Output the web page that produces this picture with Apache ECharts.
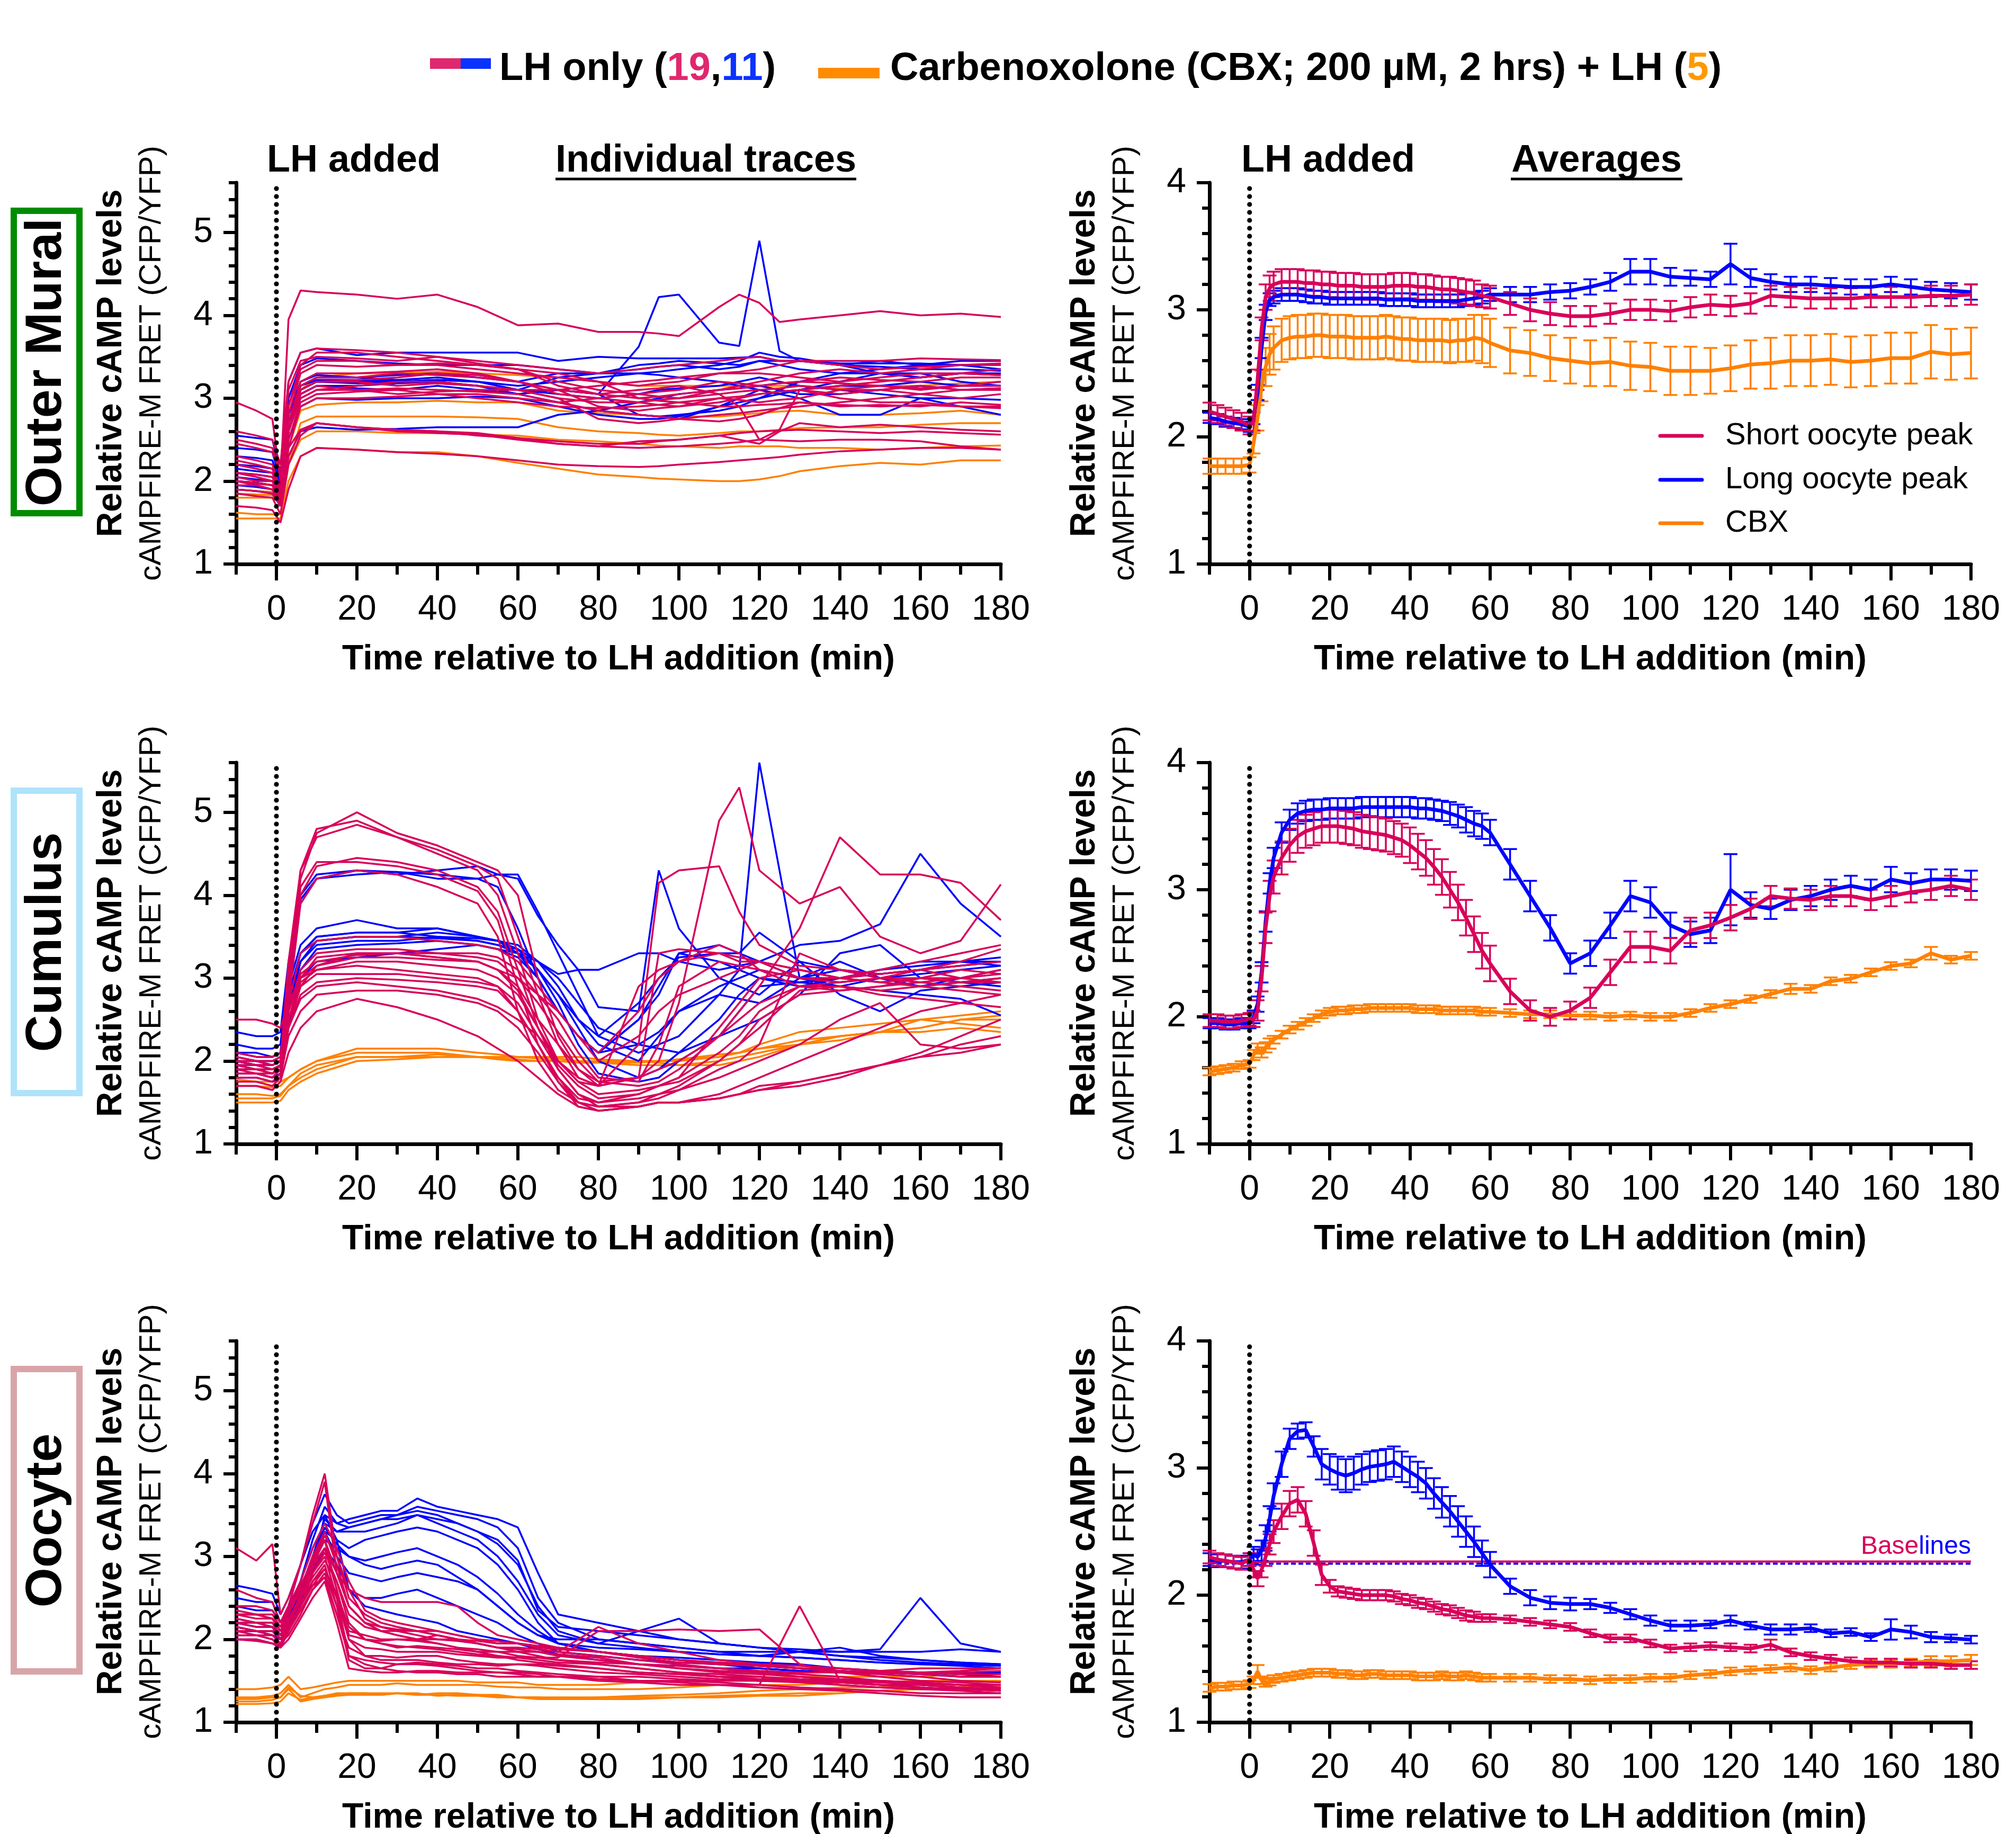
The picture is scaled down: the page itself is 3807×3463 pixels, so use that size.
<!DOCTYPE html>
<html>
<head>
<meta charset="utf-8">
<script src="https://cdn.jsdelivr.net/npm/echarts@6/dist/echarts.min.js"></script>
<style>
html, body { margin: 0; padding: 0; background: #fff; }
#main { width: 3807px; height: 3463px; }
</style>
</head>
<body>
<div id="main"></div>
<script>
// ---- data: individual traces (one row per oocyte/follicle) ----
var muralTime = [-10,-5,-1,1,3,6,10,20,30,40,50,60,70,80,90,95,100,110,115,120,125,130,140,150,160,170,180];
var muralPink = [
 [2.95,2.85,2.75,2.0,3.95,4.3,4.28,4.25,4.2,4.25,4.1,3.88,3.9,3.8,3.8,3.78,3.75,4.1,4.25,4.15,3.92,3.95,4.0,4.05,4.0,4.02,3.98],
 [2.6,2.55,2.5,2.2,3.2,3.55,3.6,3.58,3.55,3.5,3.45,3.4,3.35,3.3,3.35,3.38,3.4,3.45,3.48,3.5,3.45,3.45,3.45,3.45,3.48,3.47,3.46],
 [2.5,2.45,2.4,2.1,3.1,3.45,3.5,3.48,3.45,3.5,3.42,3.35,3.2,3.1,3.05,3.02,3.0,3.1,3.15,3.2,3.25,3.3,3.35,3.3,3.35,3.4,3.4],
 [2.3,2.25,2.2,1.9,2.9,3.35,3.45,3.45,3.4,3.4,3.35,3.3,3.25,3.2,3.0,2.97,2.95,3.0,3.02,3.05,3.08,3.1,3.15,3.2,3.25,3.3,3.35],
 [2.2,2.15,2.1,1.9,2.8,3.3,3.4,3.38,3.4,3.42,3.4,3.35,3.3,3.2,3.15,3.18,3.2,3.3,3.32,3.35,3.4,3.45,3.4,3.35,3.38,3.4,3.42],
 [2.1,2.08,2.05,1.85,2.7,3.2,3.3,3.3,3.32,3.35,3.3,3.2,3.05,3.0,2.95,2.92,2.9,2.95,3.0,3.05,3.08,3.1,3.05,3.1,3.15,3.1,3.1],
 [2.05,2.0,2.0,1.8,2.7,3.15,3.25,3.25,3.3,3.28,3.25,3.2,3.1,2.9,2.85,2.88,2.9,3.0,2.98,2.95,2.98,3.0,3.1,3.15,3.1,3.15,3.2],
 [2.0,1.98,1.95,1.75,2.6,3.1,3.2,3.2,3.15,3.18,3.15,3.1,3.1,3.15,3.2,3.22,3.25,3.3,3.3,3.3,3.28,3.25,3.2,3.25,3.3,3.3,3.28],
 [1.95,1.95,1.9,1.75,2.6,3.05,3.15,3.1,3.12,3.1,3.08,3.05,2.95,2.85,2.8,2.78,2.75,2.8,2.82,2.85,2.88,2.9,2.95,3.0,3.05,3.0,3.05],
 [2.1,2.05,2.0,1.8,2.6,3.0,3.1,3.1,3.05,3.08,3.1,3.1,3.0,2.95,2.95,2.98,3.0,3.05,3.08,3.1,3.12,3.15,3.1,3.1,3.05,3.1,3.12],
 [2.0,1.97,1.95,1.7,2.5,2.95,3.05,3.08,3.1,3.05,3.05,3.0,2.95,3.0,3.05,3.08,3.1,3.2,3.18,3.15,3.18,3.2,3.25,3.22,3.2,3.25,3.25],
 [1.9,1.88,1.85,1.7,2.4,2.9,3.0,3.0,3.02,3.05,3.0,2.95,2.9,2.88,2.9,2.92,2.95,2.9,2.9,2.92,2.93,2.95,2.92,2.9,2.92,2.9,2.9],
 [2.45,2.4,2.35,2.1,2.9,3.4,3.55,3.55,3.5,3.45,3.4,3.35,3.15,3.05,3.0,3.02,3.05,3.1,3.12,3.15,3.18,3.2,3.18,3.15,3.12,3.15,3.15],
 [2.0,1.95,1.9,1.7,2.3,2.6,2.7,2.65,2.62,2.6,2.58,2.52,2.48,2.45,2.45,2.48,2.5,2.55,2.58,2.6,2.61,2.62,2.6,2.58,2.6,2.58,2.56],
 [2.2,2.15,2.1,1.85,2.4,2.62,2.7,2.65,2.6,2.58,2.56,2.5,2.45,2.42,2.48,2.49,2.5,2.55,2.5,2.45,2.6,2.7,2.65,2.68,2.65,2.62,2.6],
 [1.85,1.82,1.8,1.6,2.2,2.55,2.7,2.65,2.62,2.6,2.55,2.52,2.45,2.42,2.4,2.41,2.42,2.45,2.47,2.5,2.49,2.48,2.5,2.5,2.48,2.42,2.38],
 [1.7,1.68,1.65,1.5,1.9,2.3,2.4,2.38,2.35,2.33,2.3,2.25,2.2,2.18,2.17,2.18,2.2,2.23,2.25,2.27,2.29,2.32,2.36,2.38,2.4,2.4,2.38],
 [2.1,2.05,2.0,1.8,2.6,3.0,3.1,3.15,3.2,3.2,3.15,3.1,3.0,2.75,2.7,2.72,2.75,2.72,2.75,2.8,2.88,2.95,2.9,2.92,2.9,2.95,2.92],
 [2.25,2.2,2.15,1.9,2.7,3.1,3.2,3.22,3.25,3.3,3.28,3.2,3.1,3.05,3.1,3.12,3.15,3.05,2.9,2.5,2.62,3.1,3.0,2.95,2.95,2.9,2.88]
];
var muralBlue = [
 [2.55,2.52,2.5,2.1,3.2,3.55,3.6,3.52,3.55,3.55,3.55,3.55,3.45,3.5,3.48,3.48,3.48,3.48,3.49,3.5,3.45,3.45,3.42,3.42,3.42,3.4,3.4],
 [2.4,2.38,2.35,2.0,3.0,3.4,3.48,3.45,3.42,3.4,3.4,3.4,3.35,3.3,3.3,3.32,3.35,3.4,3.45,3.55,3.5,3.48,3.4,3.38,3.35,3.35,3.33],
 [2.2,2.18,2.15,1.9,2.8,3.15,3.22,3.22,3.2,3.22,3.2,3.1,3.25,3.3,3.4,3.42,3.45,3.42,3.4,3.45,3.45,3.45,3.4,3.45,3.4,3.4,3.35],
 [2.1,2.08,2.05,1.85,2.7,3.1,3.2,3.2,3.22,3.18,3.15,3.05,3.1,3.05,3.62,4.22,4.25,3.67,3.63,4.9,3.57,3.45,3.4,3.3,3.3,3.2,3.15],
 [2.0,1.98,1.95,1.8,2.6,3.1,3.2,3.18,3.2,3.22,3.2,3.15,3.2,3.25,3.3,3.28,3.25,3.2,3.15,3.1,3.05,3.1,3.2,3.3,3.25,3.3,3.3],
 [2.15,2.12,2.1,1.85,2.7,3.15,3.25,3.25,3.22,3.25,3.2,3.1,3.05,3.0,3.05,3.1,3.12,3.15,3.2,3.25,3.2,3.15,3.1,3.05,3.0,3.0,2.98],
 [2.05,2.02,2.0,1.85,2.6,3.05,3.15,3.12,3.1,3.15,3.1,3.05,2.95,2.85,2.8,2.78,2.8,2.85,2.9,3.0,3.05,3.1,3.15,3.15,3.2,3.15,3.15],
 [1.95,1.93,1.9,1.75,2.5,2.9,3.0,2.98,3.0,3.0,3.02,3.0,2.9,2.8,2.75,2.75,2.78,2.9,3.0,3.1,3.05,3.0,2.8,2.8,3.0,2.9,2.8],
 [2.3,2.28,2.25,1.95,2.8,3.2,3.28,3.25,3.28,3.3,3.25,3.2,3.3,3.3,3.35,3.38,3.4,3.35,3.38,3.45,3.4,3.35,3.3,3.3,3.25,3.3,3.28],
 [1.9,1.88,1.85,1.7,2.3,2.6,2.65,2.62,2.63,2.65,2.65,2.65,2.8,2.85,2.95,3.0,3.05,3.1,3.12,3.15,3.1,3.05,3.05,3.1,3.15,3.1,3.12],
 [2.0,1.98,1.95,1.8,2.6,3.05,3.15,3.15,3.18,3.2,3.15,3.05,3.1,3.05,2.8,2.78,2.75,2.9,2.95,3.0,3.1,3.2,3.3,3.35,3.4,3.45,3.45]
];
var muralCbx = [
 [1.9,1.88,1.87,1.8,2.6,3.1,3.25,3.3,3.3,3.32,3.3,3.28,3.25,3.2,3.15,3.15,3.15,3.15,3.15,3.15,3.15,3.15,3.12,3.15,3.15,3.18,3.2],
 [1.85,1.84,1.83,1.75,2.4,2.85,2.92,2.95,2.95,2.97,2.95,2.95,2.85,2.82,2.8,2.78,2.78,2.78,2.8,2.82,2.84,2.85,2.8,2.8,2.82,2.85,2.8],
 [1.62,1.6,1.6,1.6,2.2,2.7,2.78,2.78,2.78,2.78,2.77,2.75,2.65,2.6,2.58,2.56,2.55,2.58,2.6,2.6,2.62,2.64,2.65,2.65,2.68,2.7,2.7],
 [1.8,1.8,1.8,1.75,2.2,2.5,2.6,2.6,2.58,2.58,2.56,2.55,2.5,2.48,2.45,2.43,2.42,2.4,2.42,2.42,2.42,2.4,2.4,2.38,2.4,2.42,2.43],
 [1.55,1.55,1.55,1.55,2.0,2.3,2.4,2.38,2.35,2.35,2.3,2.22,2.15,2.08,2.05,2.03,2.02,2.0,2.0,2.02,2.06,2.12,2.18,2.22,2.2,2.25,2.25]
];

var cumulusTime = [-10,-5,-1,1,3,6,10,20,30,40,50,55,60,65,70,75,80,90,95,100,110,115,120,130,140,150,160,170,180];
var cumulusPink = [
 [2.0,1.95,1.95,2.0,3.0,4.3,4.8,4.9,4.7,4.55,4.35,4.2,3.5,2.8,2.2,1.8,1.7,2.2,4.15,4.3,4.35,3.8,3.4,3.15,3.1,3.05,3.1,3.0,2.95],
 [1.95,1.9,1.9,1.95,2.8,4.2,4.75,5.0,4.75,4.6,4.4,4.3,4.0,3.0,2.3,1.9,1.75,1.8,2.0,2.7,4.9,5.3,4.3,3.9,4.1,3.5,3.3,3.45,4.13],
 [2.05,2.0,2.0,2.0,3.2,4.3,4.7,4.85,4.7,4.5,4.3,4.0,3.3,2.5,2.0,1.75,1.7,1.8,1.9,2.0,2.3,2.6,2.9,3.6,4.7,4.25,4.25,4.15,3.7],
 [1.9,1.9,1.85,1.95,2.8,4.0,4.35,4.45,4.4,4.3,4.1,3.8,3.1,2.4,1.9,1.6,1.5,1.6,1.7,1.8,2.4,2.7,3.0,3.1,3.0,2.95,3.0,3.0,3.05],
 [2.0,1.95,1.95,2.0,2.9,4.1,4.4,4.4,4.35,4.25,4.05,3.7,2.9,2.2,1.8,1.55,1.5,1.55,1.6,1.7,2.0,2.2,2.5,2.8,2.85,2.9,2.95,3.0,3.1],
 [1.85,1.85,1.8,1.9,2.7,3.9,4.2,4.3,4.25,4.1,3.9,3.5,2.6,2.0,1.65,1.5,1.45,1.5,1.6,1.65,1.9,2.0,2.2,3.3,3.1,3.0,2.95,2.9,2.85],
 [1.95,1.95,1.9,1.95,2.6,3.1,3.3,3.35,3.35,3.3,3.3,3.25,3.1,2.8,2.5,2.1,1.8,1.75,2.2,2.9,3.2,3.15,3.1,3.0,3.0,3.05,3.1,3.15,3.2],
 [1.9,1.85,1.85,1.9,2.5,3.0,3.25,3.3,3.3,3.25,3.2,3.1,2.9,2.5,2.2,1.9,1.7,1.8,3.3,3.35,3.3,3.2,3.2,3.1,3.0,3.1,3.2,3.3,3.4],
 [2.0,2.0,1.95,2.0,2.6,3.05,3.2,3.28,3.3,3.3,3.25,3.2,3.0,2.7,2.35,2.0,1.75,1.7,1.75,1.9,2.3,2.5,2.7,2.9,2.95,3.0,3.0,2.95,2.95],
 [1.8,1.8,1.75,1.85,2.4,2.9,3.15,3.25,3.25,3.22,3.2,3.1,2.85,2.4,1.95,1.7,1.55,1.6,1.7,1.8,2.1,2.3,2.6,2.9,2.9,2.85,2.9,2.95,3.0],
 [2.1,2.05,2.05,2.1,2.6,3.0,3.1,3.2,3.2,3.15,3.1,3.0,2.8,2.4,2.0,1.8,1.7,2.9,3.1,3.2,3.3,3.25,3.2,3.0,2.95,3.0,3.1,3.2,3.35],
 [1.95,1.9,1.9,1.95,2.5,2.9,3.05,3.05,3.05,3.0,2.95,2.9,2.7,2.3,1.9,1.6,1.45,1.45,1.5,1.5,1.55,1.6,1.7,1.75,1.85,1.95,2.05,2.2,2.3],
 [1.85,1.85,1.8,1.9,2.4,2.8,2.95,3.0,2.98,2.95,2.9,2.85,2.6,2.2,1.8,1.5,1.4,1.45,1.5,1.5,1.55,1.6,1.65,1.7,1.8,1.95,2.1,2.3,2.5],
 [1.75,1.75,1.7,1.8,2.3,2.6,2.8,2.85,2.85,2.8,2.7,2.6,2.4,2.1,1.75,1.45,1.4,1.45,1.5,1.5,1.6,1.7,1.8,2.0,2.2,2.4,2.6,2.7,2.8],
 [2.0,1.95,1.95,2.0,2.4,2.75,2.9,2.95,2.9,2.85,2.75,2.65,2.5,2.3,2.0,1.75,1.6,1.65,1.7,1.75,2.0,2.2,2.4,2.85,2.9,2.8,2.75,2.7,2.65],
 [1.7,1.7,1.65,1.75,2.1,2.4,2.6,2.75,2.65,2.5,2.3,2.15,2.0,1.8,1.6,1.45,1.4,1.45,1.5,1.5,1.55,1.6,1.65,1.75,1.85,1.95,2.05,2.1,2.2],
 [2.5,2.5,2.45,2.4,2.7,3.0,3.15,3.3,3.3,3.25,3.2,3.1,3.0,2.8,2.6,2.3,2.0,2.3,2.6,2.8,3.0,3.1,3.2,3.1,3.0,2.95,2.9,2.85,2.8],
 [1.9,1.9,1.85,1.9,2.5,2.95,3.1,3.15,3.1,3.05,3.0,2.9,2.6,2.2,1.75,1.5,1.45,1.5,1.55,1.65,1.8,1.9,2.0,2.2,2.5,2.7,2.2,2.15,2.2],
 [2.05,2.0,2.0,2.05,2.7,3.3,3.45,3.5,3.5,3.45,3.4,3.35,3.2,2.9,2.6,2.3,2.1,2.6,3.0,3.2,3.4,3.3,3.1,2.9,2.85,2.9,3.0,3.1,3.05]
];
var cumulusBlue = [
 [2.35,2.3,2.3,2.35,3.2,4.0,4.25,4.3,4.25,4.3,4.35,4.25,4.2,3.75,3.4,3.1,2.65,2.6,4.3,3.6,3.0,2.9,2.8,3.2,3.1,3.05,3.1,3.15,3.2],
 [2.1,2.1,2.05,2.1,3.0,3.9,4.2,4.25,4.28,4.25,4.2,4.1,3.6,3.0,2.6,2.3,2.1,2.5,2.8,3.3,3.2,3.1,3.0,2.95,3.0,3.1,3.2,3.2,3.15],
 [2.2,2.15,2.15,2.2,3.1,3.95,4.2,4.3,4.28,4.2,4.2,4.25,4.25,3.8,3.3,2.8,2.3,2.1,2.2,2.3,2.8,3.1,5.6,3.0,3.1,3.0,2.9,3.0,3.1],
 [2.0,2.0,1.95,2.0,2.8,3.3,3.5,3.55,3.55,3.6,3.5,3.45,3.35,3.1,2.8,2.5,2.3,2.7,3.0,3.25,3.3,3.3,3.2,3.4,3.45,3.65,4.5,3.9,3.5],
 [1.95,1.95,1.9,1.95,2.7,3.2,3.45,3.5,3.5,3.55,3.5,3.45,3.4,3.2,2.9,2.5,2.2,2.0,2.3,2.6,2.9,3.0,3.1,3.0,3.0,3.05,3.1,3.2,3.2],
 [2.05,2.0,2.0,2.05,2.8,3.3,3.5,3.55,3.55,3.5,3.48,3.45,3.3,3.0,2.6,2.3,2.1,2.5,2.9,3.3,3.4,3.3,3.55,3.2,2.8,2.6,2.85,2.9,2.95],
 [1.9,1.9,1.85,1.9,2.6,3.2,3.4,3.45,3.45,3.5,3.45,3.4,3.3,3.1,2.8,2.4,2.0,1.8,1.9,2.1,2.5,2.8,3.0,2.9,3.0,3.1,3.15,3.2,3.25],
 [2.1,2.05,2.05,2.1,2.9,3.4,3.6,3.7,3.6,3.6,3.5,3.45,3.35,3.1,2.7,2.2,1.85,1.75,1.8,2.0,2.3,2.4,2.5,2.8,3.3,3.4,3.0,2.95,2.9],
 [1.8,1.8,1.75,1.8,2.4,3.0,3.2,3.25,3.3,3.35,3.4,3.35,3.3,3.2,3.05,3.1,3.1,3.3,3.3,3.2,3.1,3.15,3.2,3.0,2.9,2.85,2.8,2.75,2.55],
 [2.0,1.95,1.95,2.0,2.7,3.2,3.45,3.5,3.5,3.48,3.45,3.4,3.35,3.2,3.0,2.7,2.4,2.2,2.15,2.1,2.3,2.6,2.9,2.95,2.9,3.0,3.05,3.1,3.15],
 [1.85,1.85,1.8,1.85,2.6,3.1,3.35,3.4,3.42,3.45,3.4,3.35,3.25,3.0,2.6,2.3,2.1,2.2,2.35,2.6,2.8,2.75,2.7,3.0,3.2,3.0,2.9,2.95,3.0]
];
var cumulusCbx = [
 [1.78,1.75,1.75,1.75,1.8,1.9,2.0,2.15,2.15,2.15,2.1,2.08,2.05,2.05,2.03,2.0,2.0,2.0,1.98,1.95,1.95,2.0,2.05,2.2,2.3,2.35,2.5,2.55,2.6],
 [1.7,1.7,1.68,1.7,1.8,1.9,2.0,2.1,2.1,2.1,2.05,2.05,2.05,2.03,2.0,1.98,1.98,1.98,2.0,2.02,2.05,2.1,2.15,2.25,2.3,2.35,2.4,2.5,2.55],
 [1.6,1.6,1.58,1.6,1.7,1.8,1.9,2.05,2.05,2.05,2.05,2.02,2.0,2.0,2.0,1.98,1.98,2.0,2.0,2.0,2.05,2.1,2.2,2.35,2.4,2.45,2.5,2.45,2.4],
 [1.5,1.5,1.5,1.52,1.65,1.75,1.85,2.0,2.02,2.05,2.05,2.05,2.05,2.05,2.05,2.05,2.02,2.0,2.0,2.02,2.08,2.1,2.15,2.2,2.25,2.35,2.4,2.5,2.5],
 [1.55,1.55,1.55,1.58,1.7,1.85,1.95,2.05,2.05,2.08,2.05,2.03,2.02,2.0,2.0,2.0,1.98,1.95,1.95,1.95,2.0,2.05,2.1,2.2,2.3,2.35,2.35,2.4,2.35]
];

var oocyteTime = [-10,-5,-1,1,3,6,9,12,15,18,22,26,30,35,40,45,50,55,60,65,70,80,90,100,110,120,130,140,150,160,170,180];
var oocytePink = [
 [3.1,2.95,3.15,2.3,2.5,2.9,3.4,3.9,2.8,2.4,2.2,2.1,2.05,2.0,1.95,1.9,1.88,1.85,1.85,1.8,1.75,1.7,1.65,1.6,1.58,1.55,1.5,1.45,1.42,1.4,1.4,1.38],
 [2.6,2.5,2.45,2.2,2.4,2.9,3.5,4.0,3.0,2.5,2.3,2.2,2.15,2.1,2.05,2.0,1.95,1.9,1.9,1.88,1.85,1.8,1.75,1.7,1.65,1.6,1.55,1.5,1.48,1.45,1.42,1.4],
 [2.3,2.3,2.25,2.1,2.3,2.6,3.0,3.3,2.9,2.4,2.2,2.1,2.05,2.0,2.0,1.98,1.95,1.9,1.88,1.85,1.82,1.78,1.7,1.65,1.6,1.58,1.55,1.52,1.5,1.48,1.45,1.42],
 [2.2,2.2,2.15,2.0,2.2,2.5,2.9,3.2,2.6,2.0,1.8,1.75,1.75,1.75,1.72,1.7,1.7,1.68,1.7,1.7,1.68,1.65,1.6,1.58,1.55,1.55,1.52,1.5,1.48,1.47,1.45,1.45],
 [2.1,2.1,2.05,1.95,2.1,2.4,2.8,3.0,2.5,1.8,1.7,1.65,1.7,1.72,1.7,1.68,1.65,1.65,1.62,1.6,1.58,1.55,1.5,1.48,1.45,1.45,1.42,1.4,1.38,1.35,1.35,1.35],
 [2.35,2.3,2.3,2.15,2.35,2.6,2.9,3.1,2.8,2.6,2.5,2.45,2.45,2.45,2.45,2.4,2.2,2.05,2.0,1.95,1.9,1.85,1.8,1.75,1.7,1.68,1.65,1.62,1.6,1.58,1.55,1.55],
 [2.0,2.0,1.95,1.95,2.05,2.3,2.6,2.8,2.4,2.1,2.05,2.0,2.0,1.98,1.95,1.9,1.85,1.8,1.78,1.75,1.72,1.7,1.65,1.6,1.55,1.5,1.5,1.48,1.45,1.42,1.4,1.38],
 [2.25,2.2,2.2,2.05,2.25,2.5,2.75,2.95,2.7,2.3,2.15,2.1,2.1,2.05,2.0,2.0,1.95,1.9,1.85,1.85,1.8,1.75,1.7,1.65,1.62,1.6,1.58,1.55,1.5,1.48,1.45,1.42],
 [2.15,2.1,2.1,2.0,2.2,2.5,2.8,3.05,2.7,2.2,2.0,1.95,1.9,1.92,1.9,1.88,1.85,1.85,1.8,1.78,1.78,2.1,2.1,2.12,2.1,2.12,1.7,1.6,1.55,1.5,1.48,1.45],
 [2.05,2.05,2.0,1.9,2.1,2.4,2.7,2.9,2.4,1.75,1.65,1.65,1.62,1.6,1.6,1.58,1.58,1.55,1.55,1.55,1.55,1.52,1.5,1.5,1.48,1.45,2.4,1.5,1.45,1.42,1.4,1.38],
 [2.3,2.25,2.25,2.1,2.3,2.6,2.95,3.25,3.0,2.6,2.25,2.15,2.1,2.1,2.1,2.05,2.0,1.95,1.95,1.9,1.88,1.85,1.78,1.72,1.7,1.68,1.65,1.65,1.62,1.65,1.65,1.65],
 [2.2,2.15,2.15,2.0,2.2,2.45,2.7,2.85,2.5,2.0,1.9,1.88,1.85,1.85,1.85,1.82,1.8,1.78,1.78,1.78,1.75,1.72,1.7,1.68,1.65,1.62,1.6,1.6,1.62,1.6,1.6,1.62],
 [2.1,2.05,2.05,1.95,2.15,2.4,2.65,2.75,2.3,1.9,1.8,1.8,1.78,1.8,1.8,1.75,1.72,1.7,1.7,1.68,1.65,1.6,1.58,1.55,1.52,1.5,1.5,1.48,1.45,1.45,1.42,1.4],
 [2.25,2.2,2.2,2.05,2.2,2.55,2.85,3.1,2.6,2.05,2.0,1.98,2.0,2.0,2.05,2.0,1.95,1.9,1.9,1.88,1.85,2.15,1.95,1.85,1.75,1.7,1.65,1.6,1.58,1.55,1.5,1.48],
 [2.0,1.98,1.95,1.9,2.0,2.25,2.5,2.7,2.2,1.65,1.62,1.6,1.6,1.62,1.62,1.6,1.6,1.6,1.58,1.55,1.55,1.55,1.55,1.52,1.5,1.5,1.48,1.45,1.42,1.4,1.38,1.35],
 [2.3,2.3,2.25,2.15,2.35,2.65,2.95,3.2,2.8,2.4,2.2,2.15,2.12,2.1,2.05,2.0,1.98,1.95,1.95,1.92,1.9,1.85,1.8,1.75,1.72,1.68,1.65,1.62,1.6,1.6,1.62,1.65],
 [2.15,2.1,2.1,2.0,2.15,2.4,2.65,2.85,2.55,2.15,2.0,1.95,1.92,1.9,1.88,1.85,1.82,1.8,1.75,1.72,1.7,1.65,1.6,1.58,1.55,1.52,1.5,1.48,1.45,1.45,1.42,1.4],
 [2.4,2.4,2.35,2.2,2.4,2.7,3.1,3.4,3.1,2.7,2.35,2.25,2.2,2.15,2.1,2.05,2.0,1.98,1.95,1.92,1.9,1.85,1.8,1.75,1.72,1.7,1.68,1.65,1.62,1.6,1.58,1.58],
 [2.05,2.05,2.0,1.92,2.1,2.35,2.6,2.75,2.3,1.8,1.75,1.72,1.7,1.7,1.68,1.65,1.62,1.6,1.6,1.58,1.55,1.5,1.48,1.45,1.45,1.42,1.4,1.38,1.35,1.32,1.3,1.3]
];
var oocyteBlue = [
 [2.65,2.6,2.55,2.3,2.5,2.9,3.3,3.5,3.4,3.45,3.5,3.55,3.55,3.7,3.6,3.55,3.5,3.45,3.35,2.8,2.3,2.2,2.1,2.0,1.95,1.9,1.88,1.85,1.85,1.85,1.88,1.85],
 [2.5,2.45,2.45,2.2,2.4,2.9,3.4,3.75,3.5,3.4,3.45,3.5,3.5,3.6,3.55,3.5,3.45,3.35,3.1,2.5,2.2,2.0,1.95,1.9,1.85,1.8,1.78,1.75,1.72,1.7,1.7,1.68],
 [2.3,2.3,2.25,2.1,2.3,2.7,3.1,3.4,3.3,3.3,3.3,3.35,3.4,3.5,3.4,3.3,3.2,3.0,2.7,2.3,2.05,1.95,2.1,2.25,1.95,1.9,1.85,1.8,1.75,1.72,1.7,1.68],
 [2.2,2.2,2.15,2.05,2.25,2.6,3.0,3.3,3.2,3.1,3.2,3.25,3.3,3.35,3.3,3.2,3.1,2.9,2.6,2.2,1.95,1.9,1.88,1.85,1.82,1.8,1.85,1.9,1.8,1.75,1.72,1.7],
 [2.15,2.1,2.1,2.0,2.2,2.5,2.9,3.2,3.1,3.0,2.95,3.0,3.05,3.1,3.0,2.9,2.75,2.55,2.3,2.1,1.95,1.85,1.8,1.78,1.75,1.72,1.7,1.65,1.62,1.6,1.6,1.58],
 [2.25,2.2,2.2,2.05,2.2,2.55,2.9,3.3,3.0,2.8,2.75,2.7,2.75,2.8,2.75,2.7,2.6,2.4,2.2,2.05,1.95,1.85,1.8,1.75,1.7,1.68,1.65,1.62,1.6,1.6,1.58,1.55],
 [2.1,2.1,2.05,2.0,2.15,2.45,2.8,3.1,2.9,2.6,2.5,2.5,2.55,2.6,2.5,2.4,2.3,2.2,2.05,1.95,1.85,1.8,1.75,1.72,1.7,1.65,1.62,1.6,1.6,1.58,1.55,1.55],
 [2.0,2.0,1.95,1.9,2.1,2.4,2.8,3.5,3.2,2.6,2.4,2.35,2.3,2.25,2.2,2.1,2.05,2.0,1.95,1.88,1.82,1.75,1.7,1.68,1.65,1.65,1.62,1.6,1.6,1.58,1.6,1.6],
 [2.2,2.15,2.15,2.0,2.2,2.6,3.0,3.45,3.3,3.35,3.4,3.45,3.5,3.55,3.5,3.4,3.3,3.15,2.9,2.4,2.1,1.95,1.9,1.85,1.82,1.8,1.78,1.75,1.72,1.7,1.68,1.65],
 [2.1,2.1,2.05,2.0,2.2,2.55,2.95,3.35,3.15,3.0,2.9,2.85,2.9,2.95,2.9,2.75,2.6,2.4,2.2,2.05,2.0,2.0,1.95,1.9,1.85,1.85,1.85,1.85,1.88,2.5,1.95,1.85],
 [2.4,2.35,2.35,2.2,2.35,2.7,3.2,3.6,3.4,3.35,3.4,3.45,3.45,3.5,3.45,3.4,3.3,3.2,2.95,2.35,2.15,2.1,2.05,2.0,1.95,1.9,1.85,1.8,1.78,1.75,1.72,1.7]
];
var oocyteCbx = [
 [1.4,1.4,1.42,1.45,1.55,1.4,1.42,1.45,1.48,1.5,1.5,1.5,1.5,1.5,1.5,1.5,1.48,1.48,1.48,1.45,1.45,1.45,1.48,1.5,1.5,1.52,1.55,1.55,1.55,1.55,1.58,1.6],
 [1.3,1.3,1.32,1.35,1.45,1.3,1.35,1.4,1.42,1.45,1.45,1.45,1.47,1.45,1.45,1.45,1.45,1.43,1.42,1.42,1.4,1.4,1.4,1.42,1.45,1.45,1.45,1.48,1.48,1.5,1.5,1.5],
 [1.25,1.25,1.27,1.3,1.4,1.25,1.28,1.3,1.32,1.33,1.33,1.33,1.35,1.33,1.33,1.32,1.32,1.3,1.3,1.3,1.3,1.3,1.32,1.33,1.35,1.38,1.4,1.42,1.42,1.45,1.45,1.45],
 [1.22,1.22,1.23,1.25,1.35,1.27,1.3,1.32,1.33,1.35,1.35,1.35,1.35,1.35,1.32,1.33,1.33,1.32,1.3,1.28,1.28,1.3,1.3,1.3,1.32,1.33,1.35,1.35,1.38,1.4,1.4,1.42],
 [1.28,1.28,1.3,1.3,1.42,1.32,1.3,1.32,1.35,1.35,1.35,1.33,1.35,1.33,1.35,1.35,1.33,1.33,1.3,1.3,1.28,1.28,1.28,1.3,1.3,1.32,1.32,1.35,1.38,1.4,1.42,1.45]
];

// ---- data: averages (mean and SEM) ----
var avgTime = [-10,-8,-6,-4,-2,0,1,2,3,4,5,6,8,10,12,14,16,18,20,22,24,26,28,30,32,34,36,38,40,42,44,46,48,50,52,54,56,58,60,
  65,70,75,80,85,90,95,100,105,110,115,120,125,130,135,140,145,150,155,160,165,170,175,180];

var muralShortMean = [2.20,2.18,2.16,2.14,2.12,2.09, 2.12,2.45,2.85,3.10,3.17,
  3.20,3.22,3.22,3.22,3.21,3.21,3.20,3.20,3.19,3.19,3.19,3.18,3.18,3.18,3.18,3.19,3.19,3.19,3.18,3.18,3.17,3.16,3.16,3.15,3.14,3.13,3.11,3.10,
  3.05,3.00,2.97,2.95,2.95,2.97,3.00,3.00,2.99,3.02,3.04,3.03,3.05,3.11,3.10,3.09,3.09,3.09,3.10,3.10,3.10,3.11,3.11,3.12];
var muralShortSem = [0.07,0.07,0.07,0.07,0.07,0.07, 0.07,0.08,0.09,0.1,0.1,
  0.1,0.1,0.1,0.1,0.1,0.1,0.1,0.1,0.1,0.1,0.1,0.1,0.1,0.1,0.1,0.1,0.1,0.1,0.1,0.1,0.1,0.1,0.1,0.1,0.1,0.1,0.09,0.09,
  0.09,0.09,0.09,0.08,0.08,0.08,0.08,0.08,0.08,0.08,0.08,0.08,0.08,0.08,0.08,0.08,0.08,0.08,0.08,0.08,0.08,0.08,0.08,0.08];
var muralLongMean = [2.15,2.14,2.12,2.11,2.10,2.08, 2.15,2.35,2.70,2.98,3.08,
  3.10,3.12,3.12,3.12,3.11,3.10,3.10,3.09,3.09,3.09,3.09,3.09,3.09,3.09,3.08,3.08,3.08,3.08,3.07,3.07,3.07,3.07,3.07,3.07,3.08,3.09,3.10,3.12,
  3.12,3.12,3.14,3.15,3.18,3.22,3.30,3.30,3.26,3.25,3.24,3.36,3.25,3.22,3.20,3.20,3.19,3.18,3.18,3.20,3.18,3.16,3.15,3.14];
var muralLongSem = [0.04,0.04,0.04,0.04,0.04,0.04, 0.05,0.06,0.08,0.06,0.05,
  0.05,0.05,0.05,0.05,0.05,0.05,0.05,0.05,0.05,0.05,0.05,0.05,0.05,0.05,0.05,0.05,0.05,0.05,0.05,0.05,0.05,0.05,0.05,0.05,0.05,0.05,0.05,0.05,
  0.06,0.06,0.06,0.06,0.06,0.07,0.1,0.1,0.07,0.06,0.06,0.16,0.07,0.06,0.06,0.06,0.06,0.06,0.06,0.06,0.06,0.06,0.06,0.06];
var muralCbxMean = [1.77,1.77,1.77,1.77,1.77,1.78, 1.95,2.15,2.40,2.55,2.65,
  2.70,2.76,2.78,2.79,2.79,2.80,2.80,2.79,2.79,2.79,2.78,2.78,2.78,2.78,2.79,2.78,2.77,2.77,2.76,2.76,2.76,2.76,2.75,2.76,2.76,2.78,2.77,2.74,
  2.68,2.66,2.62,2.60,2.58,2.59,2.56,2.55,2.52,2.52,2.52,2.54,2.57,2.58,2.60,2.60,2.61,2.59,2.60,2.62,2.62,2.67,2.65,2.66];
var muralCbxSem = [0.06,0.06,0.06,0.06,0.06,0.06, 0.08,0.1,0.12,0.15,0.16,
  0.17,0.17,0.17,0.17,0.17,0.17,0.17,0.17,0.17,0.17,0.17,0.17,0.17,0.17,0.17,0.17,0.17,0.17,0.17,0.17,0.17,0.17,0.17,0.17,0.17,0.18,0.19,0.19,
  0.18,0.18,0.18,0.18,0.18,0.19,0.19,0.19,0.19,0.19,0.18,0.18,0.19,0.2,0.2,0.2,0.2,0.2,0.2,0.2,0.2,0.21,0.2,0.2];

var cumulusShortMean = [1.97,1.97,1.96,1.96,1.97,1.98, 1.98,2.05,2.30,2.70,2.95,
  3.10,3.25,3.35,3.42,3.46,3.48,3.50,3.50,3.50,3.49,3.48,3.46,3.45,3.44,3.43,3.41,3.39,3.35,3.30,3.25,3.18,3.10,3.00,2.90,2.78,2.65,2.52,2.42,
  2.20,2.05,2.00,2.05,2.15,2.35,2.55,2.55,2.52,2.68,2.72,2.78,2.85,2.95,2.93,2.92,2.95,2.95,2.92,2.95,2.98,3.00,3.03,3.00];
var cumulusShortSem = [0.05,0.05,0.05,0.05,0.05,0.05, 0.06,0.08,0.1,0.12,0.12,
  0.13,0.13,0.13,0.13,0.13,0.13,0.13,0.13,0.13,0.13,0.13,0.13,0.13,0.13,0.13,0.13,0.13,0.14,0.14,0.14,0.14,0.14,0.14,0.14,0.14,0.14,0.14,0.14,
  0.1,0.08,0.07,0.07,0.08,0.1,0.12,0.12,0.1,0.1,0.1,0.1,0.08,0.08,0.08,0.08,0.08,0.08,0.08,0.08,0.08,0.08,0.08,0.08];
var cumulusLongMean = [1.95,1.95,1.94,1.94,1.95,1.95, 2.00,2.10,2.35,2.75,3.05,
  3.25,3.45,3.55,3.60,3.62,3.63,3.63,3.64,3.64,3.64,3.64,3.65,3.65,3.65,3.65,3.65,3.65,3.65,3.64,3.64,3.63,3.62,3.60,3.58,3.55,3.52,3.50,3.45,
  3.20,2.95,2.70,2.42,2.50,2.72,2.95,2.90,2.72,2.65,2.68,3.00,2.88,2.85,2.92,2.95,3.00,3.03,3.00,3.08,3.05,3.08,3.08,3.07];
var cumulusLongSem = [0.04,0.04,0.04,0.04,0.04,0.04, 0.05,0.06,0.08,0.08,0.08,
  0.08,0.08,0.08,0.08,0.08,0.08,0.08,0.08,0.08,0.08,0.08,0.08,0.08,0.08,0.08,0.08,0.08,0.08,0.08,0.08,0.08,0.08,0.09,0.09,0.1,0.1,0.1,0.1,
  0.12,0.12,0.1,0.08,0.1,0.1,0.12,0.12,0.1,0.1,0.1,0.28,0.1,0.08,0.08,0.08,0.08,0.08,0.08,0.1,0.08,0.08,0.08,0.08];
var cumulusCbxMean = [1.57,1.58,1.59,1.60,1.62,1.63, 1.70,1.75,1.72,1.76,1.79,
  1.82,1.86,1.90,1.93,1.96,1.99,2.02,2.04,2.05,2.05,2.06,2.06,2.07,2.07,2.07,2.07,2.07,2.07,2.06,2.06,2.06,2.05,2.05,2.05,2.05,2.05,2.04,2.04,
  2.03,2.02,2.02,2.01,2.01,2.00,2.01,2.00,2.00,2.03,2.07,2.10,2.14,2.18,2.22,2.22,2.28,2.30,2.35,2.40,2.42,2.50,2.45,2.48];
var cumulusCbxSem = [0.03,0.03,0.03,0.03,0.03,0.03, 0.04,0.04,0.04,0.04,0.04,
  0.03,0.03,0.03,0.03,0.03,0.03,0.03,0.03,0.03,0.03,0.03,0.03,0.03,0.03,0.03,0.03,0.03,0.03,0.03,0.03,0.03,0.03,0.03,0.03,0.03,0.03,0.03,0.03,
  0.03,0.03,0.03,0.03,0.03,0.03,0.03,0.03,0.03,0.03,0.03,0.03,0.03,0.03,0.04,0.03,0.03,0.03,0.03,0.03,0.03,0.05,0.03,0.03];

var oocyteShortMean = [2.30,2.28,2.27,2.26,2.25,2.28, 2.20,2.13,2.20,2.30,2.40,
  2.50,2.62,2.72,2.75,2.64,2.41,2.16,2.07,2.03,2.02,2.01,2.00,2.00,2.00,2.00,1.99,1.97,1.96,1.94,1.93,1.91,1.89,1.88,1.86,1.84,1.83,1.82,1.82,
  1.81,1.79,1.77,1.75,1.70,1.66,1.66,1.62,1.58,1.59,1.60,1.59,1.58,1.61,1.55,1.52,1.50,1.48,1.47,1.47,1.46,1.46,1.45,1.45];
var oocyteShortSem = [0.05,0.05,0.05,0.05,0.05,0.05, 0.06,0.06,0.06,0.07,0.08,
  0.09,0.1,0.1,0.1,0.1,0.1,0.08,0.05,0.04,0.04,0.04,0.04,0.04,0.04,0.04,0.04,0.04,0.04,0.04,0.04,0.04,0.04,0.04,0.04,0.04,0.04,0.03,0.03,
  0.03,0.03,0.03,0.03,0.03,0.03,0.03,0.03,0.03,0.03,0.03,0.03,0.03,0.04,0.03,0.03,0.03,0.03,0.03,0.03,0.03,0.03,0.03,0.03];
var oocyteLongMean = [2.28,2.27,2.27,2.26,2.26,2.28, 2.32,2.30,2.35,2.45,2.60,
  2.78,3.03,3.23,3.29,3.30,3.17,3.03,2.99,2.96,2.94,2.96,2.99,3.01,3.02,3.03,3.05,3.01,2.97,2.93,2.88,2.80,2.73,2.66,2.58,2.50,2.42,2.33,2.24,
  2.07,1.98,1.94,1.93,1.93,1.90,1.85,1.80,1.76,1.76,1.77,1.80,1.76,1.73,1.73,1.74,1.70,1.71,1.67,1.73,1.71,1.67,1.66,1.65];
var oocyteLongSem = [0.05,0.05,0.05,0.05,0.05,0.05, 0.06,0.06,0.08,0.1,0.1,
  0.1,0.1,0.08,0.06,0.06,0.08,0.12,0.12,0.13,0.13,0.13,0.12,0.12,0.12,0.12,0.12,0.12,0.12,0.12,0.12,0.12,0.12,0.12,0.12,0.12,0.12,0.1,0.1,
  0.06,0.06,0.05,0.05,0.04,0.04,0.04,0.04,0.04,0.04,0.03,0.04,0.03,0.04,0.04,0.03,0.03,0.03,0.03,0.08,0.05,0.04,0.03,0.03];
var oocyteCbxMean = [1.27,1.28,1.28,1.29,1.29,1.30, 1.33,1.40,1.33,1.31,1.32,
  1.34,1.35,1.36,1.37,1.38,1.39,1.39,1.39,1.38,1.38,1.37,1.37,1.38,1.38,1.37,1.37,1.37,1.37,1.36,1.36,1.36,1.37,1.36,1.36,1.37,1.36,1.35,1.35,
  1.35,1.35,1.34,1.34,1.33,1.34,1.34,1.35,1.35,1.37,1.38,1.40,1.41,1.42,1.43,1.41,1.43,1.45,1.46,1.46,1.47,1.48,1.48,1.49];
var oocyteCbxSem = [0.03,0.03,0.03,0.03,0.03,0.03, 0.03,0.05,0.03,0.03,0.03,
  0.03,0.03,0.03,0.03,0.03,0.03,0.03,0.03,0.03,0.03,0.03,0.03,0.03,0.03,0.03,0.03,0.03,0.03,0.03,0.03,0.03,0.03,0.03,0.03,0.03,0.03,0.03,0.03,
  0.03,0.03,0.03,0.03,0.03,0.03,0.03,0.03,0.03,0.03,0.03,0.03,0.03,0.03,0.03,0.03,0.03,0.03,0.03,0.03,0.03,0.04,0.04,0.04];

var baselineShort = 2.265, baselineLong = 2.248;
var lhAddedAt = 0;

// ---- ticks ----
var xMajor = [0, 20, 40, 60, 80, 100, 120, 140, 160, 180];
var xMinor = [-10, 10, 30, 50, 70, 90, 110, 130, 150, 170];
var yMajorTraces = [1, 2, 3, 4, 5];
var yMinorTraces = [1.2,1.4,1.6,1.8,2.2,2.4,2.6,2.8,3.2,3.4,3.6,3.8,4.2,4.4,4.6,4.8,5.2,5.4,5.6];
var yMajorAvg = [1, 2, 3, 4];
var yMinorAvg = [1.2,1.4,1.6,1.8,2.2,2.4,2.6,2.8,3.2,3.4,3.6,3.8];

// ---- layout / style ----
var FONT = '"Liberation Sans", Arial, Helvetica, sans-serif';
var PINK = '#d8005a', BLUE = '#0000ff', ORANGE = '#ff8000';
var ROW_TOP = [345, 1440, 2532], PANEL_H = 720;
var COL_LEFT = [446, 2284], COL_W = [1444, 1438];

var grids = [], xAxes = [], yAxes = [], series = [], graphics = [];

function addPanel(row, col) {
    var gi = grids.length;
    var yMax = col === 0 ? 5.6 : 4;
    var lineSt = { color: '#000', width: 7 };
    var tickSt = { color: '#000', width: 6 };
    grids.push({ left: COL_LEFT[col], top: ROW_TOP[row], width: COL_W[col], height: PANEL_H, outerBoundsMode: 'none', containLabel: false });
    xAxes.push({
        type: 'value', gridIndex: gi, position: 'bottom', min: -10, max: 180,
        axisLine: { show: true, onZero: false, lineStyle: lineSt },
        axisTick: { show: true, customValues: xMajor, length: 31, lineStyle: tickSt },
        axisLabel: { show: true, customValues: xMajor, margin: 54, fontSize: 66, color: '#000', fontFamily: FONT },
        splitLine: { show: false },
        name: 'Time relative to LH addition (min)', nameLocation: 'middle', nameGap: 148,
        nameTextStyle: { fontSize: 66, fontWeight: 'bold', color: '#000', fontFamily: FONT }
    });
    xAxes.push({
        type: 'value', gridIndex: gi, position: 'bottom', min: -10, max: 180,
        axisLine: { show: false, onZero: false },
        axisTick: { show: true, customValues: xMinor, length: 20, lineStyle: tickSt },
        axisLabel: { show: false }, splitLine: { show: false }
    });
    yAxes.push({
        type: 'value', gridIndex: gi, position: 'left', min: 1, max: yMax,
        axisLine: { show: true, onZero: false, lineStyle: lineSt },
        axisTick: { show: true, customValues: col === 0 ? yMajorTraces : yMajorAvg, length: 24, lineStyle: tickSt },
        axisLabel: { show: true, customValues: col === 0 ? yMajorTraces : yMajorAvg, margin: 44, fontSize: 66, color: '#000', fontFamily: FONT },
        splitLine: { show: false }
    });
    yAxes.push({
        type: 'value', gridIndex: gi, position: 'left', min: 1, max: yMax,
        axisLine: { show: false, onZero: false },
        axisTick: { show: true, customValues: col === 0 ? yMinorTraces : yMinorAvg, length: 14, lineStyle: tickSt },
        axisLabel: { show: false }, splitLine: { show: false }
    });
    // LH addition marker: round dots along x = 0
    series.push({
        type: 'custom', xAxisIndex: 2 * gi, yAxisIndex: 2 * gi, silent: true, z: 10, animation: false,
        data: [[lhAddedAt, 1, yMax]],
        encode: { x: 0, y: 1 },
        renderItem: function (params, api) {
            var bottom = api.coord([api.value(0), api.value(1)]);
            var top = api.coord([api.value(0), api.value(2)]);
            var dots = [];
            for (var y = bottom[1] - 4; y >= top[1]; y -= 15) {
                dots.push({ type: 'circle', shape: { cx: bottom[0], cy: y, r: 4.6 }, style: { fill: '#000' } });
            }
            return { type: 'group', children: dots };
        }
    });
    // y axis names
    var cy = ROW_TOP[row] + 341;
    graphics.push({ type: 'text', x: COL_LEFT[col] - 235, y: cy, rotation: Math.PI / 2,
        style: { text: 'Relative cAMP levels', fontSize: 66, fontWeight: 'bold', fontFamily: FONT, fill: '#000',
                 align: 'center', verticalAlign: 'middle', textAlign: 'center', textVerticalAlign: 'middle' } });
    graphics.push({ type: 'text', x: COL_LEFT[col] - 159, y: cy, rotation: Math.PI / 2,
        style: { text: 'cAMPFIRE-M FRET (CFP/YFP)', fontSize: 58, fontFamily: FONT, fill: '#000',
                 align: 'center', verticalAlign: 'middle', textAlign: 'center', textVerticalAlign: 'middle' } });
    return gi;
}

function addTraces(gi, times, traces, color) {
    traces.forEach(function (vals) {
        series.push({
            type: 'line', xAxisIndex: 2 * gi, yAxisIndex: 2 * gi, symbol: 'none', silent: true, z: 3, animation: false,
            lineStyle: { color: color, width: 3.5 },
            data: times.map(function (t, i) { return [t, vals[i]]; })
        });
    });
}

function addAverage(gi, mean, sem, color) {
    series.push({
        type: 'custom', xAxisIndex: 2 * gi, yAxisIndex: 2 * gi, silent: true, z: 3, animation: false,
        data: avgTime.map(function (t, i) { return [t, mean[i], sem[i]]; }),
        encode: { x: 0, y: 1 },
        renderItem: function (params, api) {
            var x = api.value(0), y = api.value(1), e = api.value(2);
            var lo = api.coord([x, y - e]), hi = api.coord([x, y + e]);
            var w = 13;
            function seg(x1, y1, x2, y2) {
                return { type: 'line', shape: { x1: x1, y1: y1, x2: x2, y2: y2 }, style: { stroke: color, lineWidth: 3.5 } };
            }
            return { type: 'group', children: [
                seg(lo[0], lo[1], hi[0], hi[1]),
                seg(lo[0] - w, lo[1], lo[0] + w, lo[1]),
                seg(hi[0] - w, hi[1], hi[0] + w, hi[1])
            ] };
        }
    });
    series.push({
        type: 'line', xAxisIndex: 2 * gi, yAxisIndex: 2 * gi, symbol: 'none', silent: true, z: 4, animation: false,
        lineStyle: { color: color, width: 7 },
        data: avgTime.map(function (t, i) { return [t, mean[i]]; })
    });
}

// row 1: outer mural
var g = addPanel(0, 0);
addTraces(g, muralTime, muralCbx, ORANGE);
addTraces(g, muralTime, muralBlue, BLUE);
addTraces(g, muralTime, muralPink, PINK);
g = addPanel(0, 1);
addAverage(g, muralCbxMean, muralCbxSem, ORANGE);
addAverage(g, muralLongMean, muralLongSem, BLUE);
addAverage(g, muralShortMean, muralShortSem, PINK);
// row 2: cumulus
g = addPanel(1, 0);
addTraces(g, cumulusTime, cumulusCbx, ORANGE);
addTraces(g, cumulusTime, cumulusBlue, BLUE);
addTraces(g, cumulusTime, cumulusPink, PINK);
g = addPanel(1, 1);
addAverage(g, cumulusCbxMean, cumulusCbxSem, ORANGE);
addAverage(g, cumulusLongMean, cumulusLongSem, BLUE);
addAverage(g, cumulusShortMean, cumulusShortSem, PINK);
// row 3: oocyte
g = addPanel(2, 0);
addTraces(g, oocyteTime, oocyteCbx, ORANGE);
addTraces(g, oocyteTime, oocyteBlue, BLUE);
addTraces(g, oocyteTime, oocytePink, PINK);
g = addPanel(2, 1);
series.push({ type: 'line', xAxisIndex: 2 * g, yAxisIndex: 2 * g, symbol: 'none', silent: true, z: 2, animation: false,
    data: [[-10, baselineLong], [180, baselineLong]], lineStyle: { color: BLUE, width: 4, type: [9, 5] } });
series.push({ type: 'line', xAxisIndex: 2 * g, yAxisIndex: 2 * g, symbol: 'none', silent: true, z: 2, animation: false,
    data: [[-10, baselineShort], [180, baselineShort]], lineStyle: { color: PINK, width: 4 } });
addAverage(g, oocyteCbxMean, oocyteCbxSem, ORANGE);
addAverage(g, oocyteLongMean, oocyteLongSem, BLUE);
addAverage(g, oocyteShortMean, oocyteShortSem, PINK);

// ---- annotations ----
function text(x, y, str, size, bold, color, align, extra) {
    var st = { text: str, fontSize: size, fontWeight: bold ? 'bold' : 'normal', fontFamily: FONT, fill: color || '#000',
        align: align || 'center', verticalAlign: 'middle', textAlign: align || 'center', textVerticalAlign: 'middle' };
    if (extra) { for (var k in extra) st[k] = extra[k]; }
    return { type: 'text', x: x, y: y, style: st };
}
function hline(x1, x2, y, color, width, cap) {
    return { type: 'line', shape: { x1: x1, y1: y, x2: x2, y2: y }, style: { stroke: color, lineWidth: width, lineCap: cap || 'butt' } };
}

// row labels in boxes
var rowNames = ['Outer Mural', 'Cumulus', 'Oocyte'];
var rowColors = ['#008c00', '#aee3fb', '#d8a4a8'];
rowNames.forEach(function (n, r) {
    var by = ROW_TOP[r] + 53;
    graphics.push({ type: 'rect', shape: { x: 26, y: by, width: 124, height: 571 },
        style: { fill: 'none', stroke: rowColors[r], lineWidth: 12 } });
    var t = text(88, by + 286, n, 97, true, '#000', 'center');
    t.rotation = Math.PI / 2;
    graphics.push(t);
});

// panel titles
graphics.push(text(668, 304, 'LH added', 72, true));
graphics.push(text(2508, 304, 'LH added', 72, true));
graphics.push(text(1333, 304, 'Individual traces', 72, true));
graphics.push(hline(1049, 1617, 338, '#000', 5));
graphics.push(text(3015, 304, 'Averages', 72, true));
graphics.push(hline(2853, 3177, 338, '#000', 5));

// top legend
function rs(color) { return { fontSize: 74, fontWeight: 'bold', fontFamily: FONT, fill: color }; }
graphics.push({ type: 'rect', shape: { x: 812, y: 110, width: 58, height: 20 }, style: { fill: '#e0286e' } });
graphics.push({ type: 'rect', shape: { x: 870, y: 110, width: 57, height: 20 }, style: { fill: '#0a32ff' } });
graphics.push(text(943, 131, '{k|LH only (}{p|19}{k|,}{b|11}{k|)}', 74, true, '#000', 'left',
    { rich: { k: rs('#000'), p: rs('#e0286e'), b: rs('#0a32ff') } }));
graphics.push({ type: 'rect', shape: { x: 1545, y: 128, width: 116, height: 20 }, style: { fill: '#ff8c00' } });
graphics.push(text(1681, 131, '{k|Carbenoxolone (CBX; 200 \u00b5M, 2 hrs) + LH (}{o|5}{k|)}', 74, true, '#000', 'left',
    { rich: { k: rs('#000'), o: rs('#ff9900') } }));

// averages legend
var legNames = ['Short oocyte peak', 'Long oocyte peak', 'CBX'];
var legColors = [PINK, BLUE, ORANGE];
var legY = [823, 906, 988];
legNames.forEach(function (n, i) {
    graphics.push(hline(3135, 3214, legY[i], legColors[i], 7, 'round'));
    graphics.push(text(3258, legY[i], n, 58, false, '#000', 'left'));
});

// baselines label
function rn(color) { return { fontSize: 48, fontFamily: FONT, fill: color }; }
graphics.push(text(3722, 2921, '{p|Base}{b|lines}', 48, false, PINK, 'right', { rich: { p: rn(PINK), b: rn(BLUE) } }));

var chart = echarts.init(document.getElementById('main'));
chart.setOption({
    animation: false,
    backgroundColor: '#fff',
    textStyle: { fontFamily: FONT },
    grid: grids,
    xAxis: xAxes,
    yAxis: yAxes,
    series: series,
    graphic: { elements: graphics }
});
</script>
</body>
</html>
